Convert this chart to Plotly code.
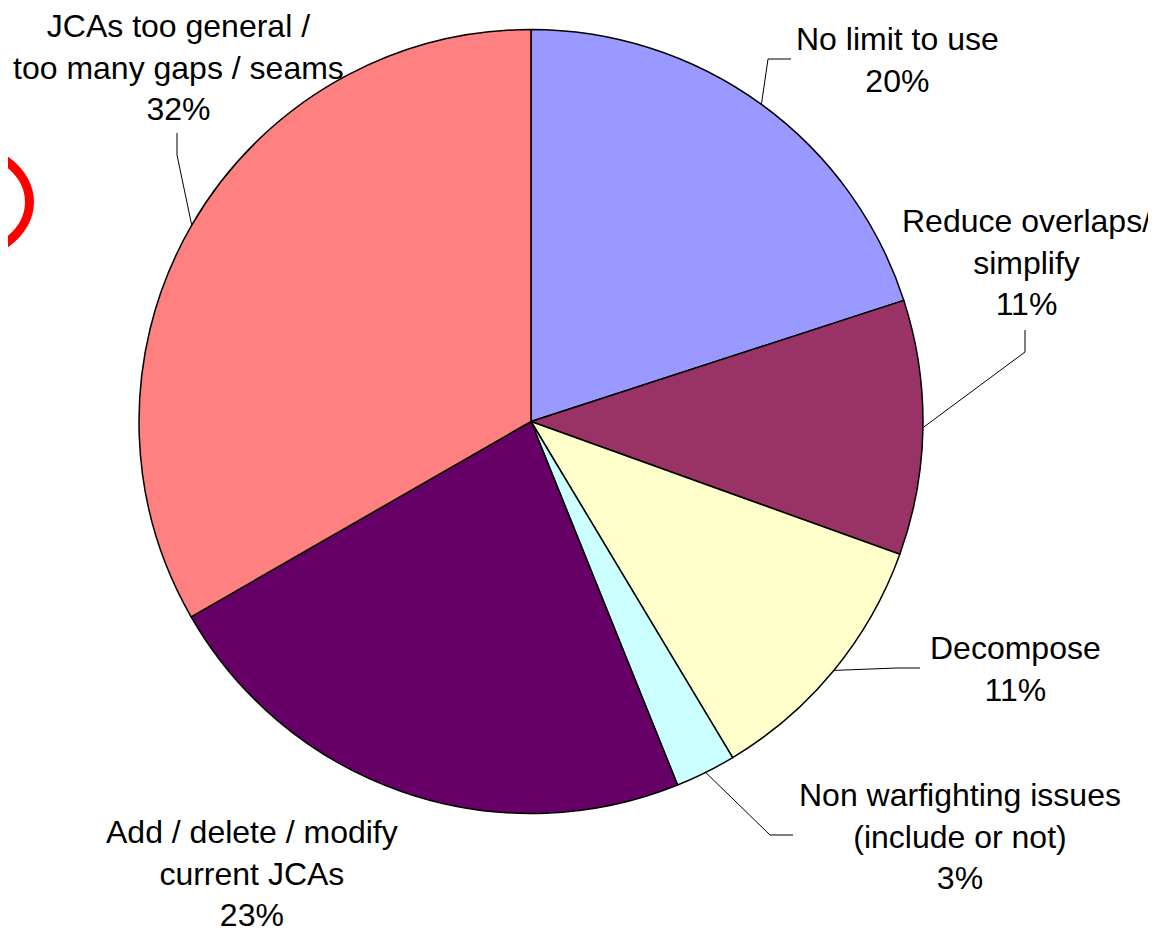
import math
import plotly.graph_objects as go

# ---- data ----
categories = [
    "No limit to use",
    "Reduce overlaps/<br>simplify",
    "Decompose",
    "Non warfighting issues<br>(include or not)",
    "Add / delete / modify<br>current JCAs",
    "JCAs too general /<br>too many gaps / seams",
]
values = [20.0, 10.5, 10.9, 2.5, 22.8, 33.3]
pct_labels = ["20%", "11%", "11%", "3%", "23%", "32%"]
colors = ["#9999FF", "#993366", "#FFFFCC", "#CCFFFF", "#660066", "#FF8080"]

# ---- layout constants (page pixels; the page body adds an 8px offset) ----
OFF = 8
W, H = 1156 - OFF, 930 - OFF
CX, CY, R = 531, 421.5, 392
label_pos = [(897, 60), (1026, 263), (1015, 669), (960, 836), (252, 873), (178, 68)]
leader_elbows = [
    [(791, 59), (768, 59)],
    [(1025, 330), (1025, 352)],
    [(920, 668), (897, 668)],
    [(793, 835), (770, 835)],
    None,
    [(177, 133), (177, 155)],
]

def px(x, y):
    return (x - OFF) / W, 1 - (y - OFF) / H

fig = go.Figure()
dx0, dy1 = px(CX - R, CY - R)
dx1, dy0 = px(CX + R, CY + R)
fig.add_trace(go.Pie(
    labels=categories,
    values=values,
    sort=False,
    direction="clockwise",
    rotation=0,
    textinfo="none",
    marker=dict(colors=colors, line=dict(color="black", width=1.5)),
    domain=dict(x=[dx0, dx1], y=[dy0, dy1]),
    showlegend=False,
))

annotations = []
shapes = []
total = sum(values)
cum = 0.0
for i, v in enumerate(values):
    mid = (cum + v / 2) / total
    cum += v
    ang = mid * 2 * math.pi
    ex, ey = CX + R * math.sin(ang), CY - R * math.cos(ang)
    lx, ly = label_pos[i]
    x, y = px(lx, ly)
    annotations.append(dict(
        x=x, y=y, xref="paper", yref="paper", xanchor="center", yanchor="middle",
        text=categories[i] + "<br>" + pct_labels[i], showarrow=False, align="center",
        font=dict(family="Liberation Sans, Arial, sans-serif", size=32, color="black"),
    ))
    if leader_elbows[i]:
        pts = leader_elbows[i] + [(ex, ey)]
        path = "M " + " L ".join(f"{px(a, b)[0]},{px(a, b)[1]}" for a, b in pts)
        shapes.append(dict(type="path", xref="paper", yref="paper", path=path,
                           line=dict(color="black", width=1)))

# red hand-drawn style ellipse at left edge
x0, y0 = px(-130, 144)
x1, y1 = px(29.5, 260)
shapes.append(dict(type="circle", xref="paper", yref="paper",
                   x0=x0, y0=y1, x1=x1, y1=y0,
                   line=dict(color="#FF0000", width=9)))

fig.update_layout(
    width=W, height=H,
    margin=dict(l=0, r=0, t=0, b=0),
    paper_bgcolor="white", plot_bgcolor="white",
    annotations=annotations, shapes=shapes,
)
fig.write_html("out.html")
